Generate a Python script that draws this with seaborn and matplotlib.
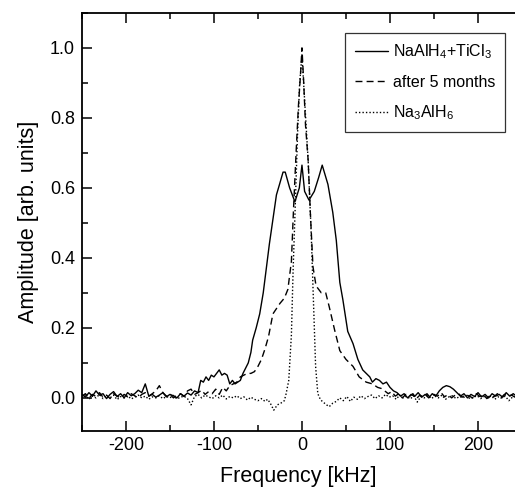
import numpy as np
import pandas as pd
import seaborn as sns
import matplotlib.pyplot as plt
from matplotlib.ticker import MultipleLocator

# NaAlH4+TiCl3 (solid)
freq_fresh = [-250, -246, -242, -238, -234, -230, -226, -222, -218, -214, -210, -206, -202,
              -198, -194, -190, -186, -182, -178, -174, -170, -166, -162, -158, -154, -150,
              -146, -142, -138, -134, -130, -126, -122,
              -118, -115, -112, -109, -106, -103, -100, -97, -94, -91, -88, -85, -82, -79,
              -76, -73, -70, -67, -64, -61, -58, -56, -52, -48, -44, -40.5, -37, -33, -29,
              -25.5, -21.5, -19, -14, -8, -3, 0, 3, 8, 14, 19, 23, 29.5, 35, 39, 43, 46.5,
              52, 58, 63.5, 69, 73, 77, 80, 84, 88, 92, 96, 100, 104,
              108, 112, 116, 120, 124, 128, 132, 136, 140, 144, 148, 152, 156, 160, 164,
              168, 172, 176, 180, 184, 188, 192, 196, 200, 204, 208, 212, 216, 220, 224,
              228, 232, 236, 240, 242]
amp_fresh = [0.010, 0.002, 0.015, 0.005, 0.020, 0.008, 0.012, -0.002, 0.010, 0.018, 0.004,
             0.012, 0.000, 0.015, 0.006, 0.012, 0.022, 0.015, 0.040, 0.005, 0.010, 0.002,
             0.008, 0.015, 0.003, 0.010, 0.006, 0.000, 0.012, 0.005, 0.014, 0.008, 0.020,
             0.015, 0.050, 0.045, 0.060, 0.050, 0.065, 0.060, 0.070, 0.080, 0.065, 0.070,
             0.065, 0.040, 0.050, 0.040, 0.045, 0.050, 0.070, 0.085, 0.100, 0.130, 0.165,
             0.200, 0.240, 0.300, 0.370, 0.440, 0.510, 0.580, 0.610, 0.645, 0.645, 0.600,
             0.560, 0.600, 0.665, 0.590, 0.565, 0.590, 0.630, 0.665, 0.610, 0.530, 0.450,
             0.330, 0.280, 0.190, 0.155, 0.110, 0.080, 0.070, 0.060, 0.045, 0.055, 0.050,
             0.040, 0.045, 0.030, 0.020,
             0.015, 0.005, 0.012, 0.000, 0.010, 0.004, 0.015, 0.002, 0.010, 0.000, 0.012,
             0.005, 0.020, 0.030, 0.035, 0.032, 0.025, 0.015, 0.005, 0.012, 0.000, 0.010,
             0.004, 0.015, 0.003, 0.010, 0.000, 0.012, 0.005, 0.010, 0.002, 0.015, 0.005,
             0.012, 0.008]

# after 5 months (dashed)
freq_aged = [-250, -246, -242, -238, -234, -230, -226, -222, -218, -214, -210, -206, -202,
             -198, -194, -190, -186, -182, -178, -174, -170, -166, -162, -158, -154, -150,
             -146, -142, -138, -134, -130, -126, -122, -118, -114, -110, -106, -102, -98,
             -94, -90, -86, -82,
             -78, -74, -70, -66, -62, -58, -54, -50, -46, -42, -38, -33, -25, -20, -16,
             -12, -9.5, -6.5, -4, -1.5, 0, 2, 4, 7, 9.5, 12.5, 16, 22, 27, 31, 37, 43, 50,
             58, 65, 73, 80, 86, 90,
             94, 98, 102, 106, 110, 114, 118, 122, 126, 130, 134, 138, 142, 146, 150, 154,
             158, 162, 166, 170, 174, 178, 182, 186, 190, 194, 198, 202, 206, 210, 214, 218,
             222, 226, 230, 234, 238, 242]
amp_aged = [0.005, 0.012, 0.000, 0.010, 0.004, 0.015, 0.002, 0.008, -0.002, 0.012, 0.005,
            0.000, 0.010, 0.003, 0.012, 0.006, 0.000, 0.010, 0.015, 0.005, 0.012, 0.020,
            0.035, 0.015, 0.005, 0.010, 0.000, 0.008, 0.012, 0.004, 0.020, 0.025, 0.010,
            0.015, 0.022, 0.010, 0.018, 0.012, 0.025, 0.010, 0.030, 0.020, 0.035,
            0.040, 0.045, 0.060, 0.065, 0.070, 0.070, 0.075, 0.090, 0.110, 0.140, 0.175,
            0.240, 0.270, 0.285, 0.310, 0.390, 0.545, 0.710, 0.835, 0.930, 1.000, 0.900,
            0.780, 0.680, 0.530, 0.375, 0.320, 0.300, 0.300, 0.260, 0.195, 0.135, 0.110,
            0.090, 0.060, 0.045, 0.040, 0.030, 0.027,
            0.020, 0.012, 0.018, 0.005, 0.012, 0.000, 0.010, 0.004, 0.012, -0.002, 0.008,
            0.002, 0.012, 0.000, 0.010, 0.005, 0.015, 0.003, 0.010, 0.000, 0.008, 0.012,
            0.002, 0.010, 0.005, 0.000, 0.012, 0.004, 0.010, -0.002, 0.008, 0.003, 0.012,
            0.000, 0.010, 0.005, 0.008, 0.002]

# Na3AlH6 (dotted)
freq_ref = [-250, -246, -242, -238, -234, -230, -226, -222, -218, -214, -210, -206, -202,
            -198, -194, -190, -186, -182, -178, -174, -170, -166, -162, -158, -154, -150,
            -146, -142, -138, -134, -130, -126, -122, -118, -114, -110, -106, -102, -98,
            -94, -90, -86, -82, -78, -74, -70, -66, -62, -58, -54, -50, -46, -42, -39,
            -36, -32, -28, -24, -20, -18, -15, -12, -10, -8, -5, -2.6, 0, 3, 7, 10.5, 13,
            15.5, 18, 21, 24, 28, 31, 35, 39, 43,
            47, 51, 55, 59, 63, 67, 71, 75, 79, 83, 87, 91, 95, 99, 103, 107, 111, 115,
            119, 123, 127, 131, 135, 139, 143, 147, 151, 155, 159, 163, 167, 171, 175,
            179, 183, 187, 191, 195, 199, 203, 207, 211, 215, 219, 223, 227, 231, 235,
            239, 242]
amp_ref = [0.000, 0.008, -0.004, 0.005, 0.000, 0.010, -0.002, 0.006, 0.000, 0.008, -0.005,
           0.004, 0.000, 0.006, -0.003, 0.002, 0.008, 0.000, 0.005, -0.004, 0.003, 0.000,
           0.006, -0.002, 0.004, 0.000, 0.007, -0.003, 0.002, 0.005, -0.002, -0.020, 0.004,
           0.010, 0.000, 0.008, 0.003, -0.002, 0.006, 0.000, 0.008, -0.003, 0.004, 0.000,
           0.006, -0.002, 0.003, -0.006, 0.002, -0.004, -0.008, -0.002, -0.010, -0.004,
           -0.015, -0.035, -0.020, -0.015, -0.008, 0.012, 0.050, 0.180, 0.370, 0.520,
           0.755, 0.900, 0.980, 0.850, 0.680, 0.470, 0.280, 0.090, 0.012, -0.005, -0.012,
           -0.020, -0.025, -0.015, -0.010, 0.000,
           -0.008, 0.004, -0.010, 0.002, -0.004, 0.006, -0.002, 0.004, 0.008, -0.002,
           0.006, 0.000, 0.010, 0.002, 0.006, -0.004, 0.008, 0.000, 0.005, -0.003, 0.006,
           -0.012, 0.004, 0.000, 0.007, -0.002, 0.005, 0.000, 0.008, -0.004, 0.003, 0.006,
           -0.002, 0.004, 0.000, 0.007, -0.003, 0.002, 0.006, -0.002, 0.004, 0.000, 0.006,
           -0.004, 0.003, 0.000, 0.005, -0.008, 0.002, 0.004]

sns.set_theme(style="ticks")
plt.rcParams['font.family'] = ['Liberation Sans', 'DejaVu Sans']
plt.rcParams['mathtext.fontset'] = 'custom'
plt.rcParams['mathtext.rm'] = 'Liberation Sans'
plt.rcParams['mathtext.it'] = 'Liberation Sans'
plt.rcParams['axes.unicode_minus'] = False
plt.rcParams['text.color'] = 'black'
plt.rcParams['axes.labelcolor'] = 'black'
plt.rcParams['xtick.color'] = 'black'
plt.rcParams['ytick.color'] = 'black'

fig = plt.figure(figsize=(5.15, 4.95), dpi=100)
ax = fig.add_axes([0.159, 0.129, 0.841, 0.845])

sns.lineplot(x=freq_fresh, y=amp_fresh, ax=ax, color='black', linewidth=1.0,
             linestyle='-', estimator=None, sort=False,
             label=r'NaAlH$_4$+TiCl$_3$')
sns.lineplot(x=freq_aged, y=amp_aged, ax=ax, color='black', linewidth=1.0,
             linestyle=(0, (5, 3)), estimator=None, sort=False,
             label='after 5 months')
sns.lineplot(x=freq_ref, y=amp_ref, ax=ax, color='black', linewidth=1.0,
             linestyle=(0, (1, 1.5)), estimator=None, sort=False,
             label=r'Na$_3$AlH$_6$')

ax.set_xlim(-250, 242)
ax.set_ylim(-0.095, 1.1)
ax.xaxis.set_major_locator(MultipleLocator(100))
ax.xaxis.set_minor_locator(MultipleLocator(50))
ax.yaxis.set_major_locator(MultipleLocator(0.2))
ax.yaxis.set_minor_locator(MultipleLocator(0.1))
ax.yaxis.set_major_formatter(plt.FormatStrFormatter('%.1f'))

ax.tick_params(which='both', direction='in', top=True, right=False,
               labelsize=13, color='black', width=1.1)
ax.tick_params(axis='x', which='major', length=7, pad=4)
ax.tick_params(axis='y', which='major', length=7, pad=5)
ax.tick_params(which='minor', length=4)

for side in ['left', 'bottom', 'top']:
    ax.spines[side].set_linewidth(1.3)
    ax.spines[side].set_color('black')
ax.spines['right'].set_visible(False)

ax.set_xlabel('Frequency [kHz]', fontsize=15.5, labelpad=9)
ax.set_ylabel('Amplitude [arb. units]', fontsize=15.5, labelpad=8)

leg = ax.legend(loc='upper right', bbox_to_anchor=(0.977, 0.952), borderaxespad=0,
                fontsize=11.5, frameon=True, fancybox=False, edgecolor='black',
                handlelength=2.1, handletextpad=0.3, labelspacing=0.85,
                borderpad=0.6)
leg.get_frame().set_linewidth(0.9)

fig.savefig('out.png', dpi=100)
